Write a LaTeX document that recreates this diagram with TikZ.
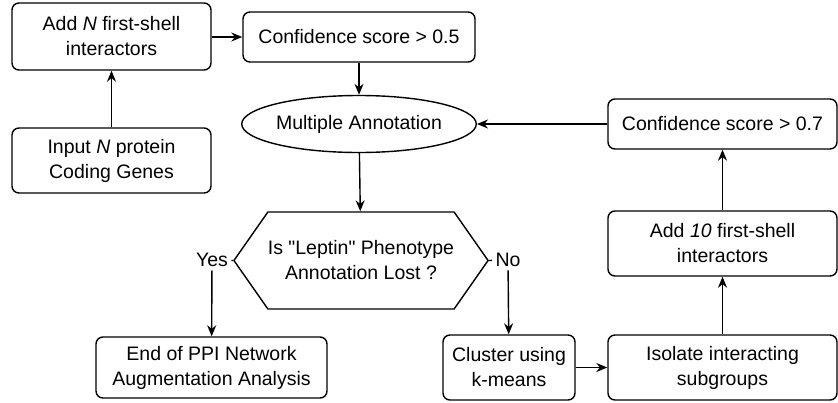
\documentclass[tikz,border=0pt]{standalone}
\usepackage{fontspec}
\setmainfont{Liberation Sans}[Ligatures=TeXOff]
\usetikzlibrary{shapes.geometric,shapes.symbols,arrows.meta}
\tikzset{
  stepbox/.style={draw,rounded corners=7pt,line width=1.4pt,align=center,inner sep=0pt},
  flow/.style={line width=1.4pt,-{Stealth[length=11pt,width=9pt]}},
  plain/.style={line width=1.4pt}
}
\begin{document}
\begin{tikzpicture}[x=1pt,y=-1pt,font=\fontsize{19.5}{25}\selectfont]
\useasboundingbox (0,0) rectangle (838,402);
\node[stepbox,minimum width=199pt,minimum height=67pt] (addN) at (111.5,36.5) {Add \textit{N} first-shell\\interactors};
\node[stepbox,minimum width=199pt,minimum height=65pt] (input) at (111.5,160.5) {Input \textit{N} protein\\Coding Genes};
\node[stepbox,minimum width=232pt,minimum height=50pt] (confA) at (359,37) {Confidence score > 0.5};
\node[draw,ellipse,line width=1.4pt,minimum width=196pt,minimum height=57pt,inner sep=0pt] (multi) at (359,124) {Multiple Annotation};
\node[draw,signal,signal to=east and west,signal pointer angle=110,line width=1.4pt,minimum width=230pt,minimum height=97pt,inner sep=0pt,align=center] (lost) at (361,260.5) {Is "Leptin" Phenotype\\Annotation Lost ?};
\node (yes) at (212,260) {Yes};
\node (no) at (508,260) {No};
\node[stepbox,minimum width=231pt,minimum height=61pt] (stop) at (211.5,367.5) {End of PPI Network\\Augmentation Analysis};
\node[stepbox,minimum width=132pt,minimum height=65pt] (clust) at (509,367.5) {Cluster using\\k-means};
\node[stepbox,minimum width=229pt,minimum height=65pt] (isol) at (722.5,367.5) {Isolate interacting\\subgroups};
\node[stepbox,minimum width=229pt,minimum height=65pt] (addTen) at (722.5,243.5) {Add \textit{10} first-shell\\interactors};
\node[stepbox,minimum width=229pt,minimum height=50pt] (confB) at (722.5,124) {Confidence score > 0.7};
\draw[flow] (input) -- (addN);
\draw[flow] (addN.east |- confA) -- (confA);
\draw[flow] (confA) -- (multi);
\draw[flow] (multi) -- (lost);
\draw[plain] (lost.west) -- (yes);
\draw[plain] (lost.east) -- (no);
\draw[flow] (yes) -- (stop);
\draw[flow] (no) -- (clust);
\draw[flow] (clust) -- (isol);
\draw[flow] (isol) -- (addTen);
\draw[flow] (addTen) -- (confB);
\draw[flow] (confB) -- (multi);
\end{tikzpicture}
\end{document}
